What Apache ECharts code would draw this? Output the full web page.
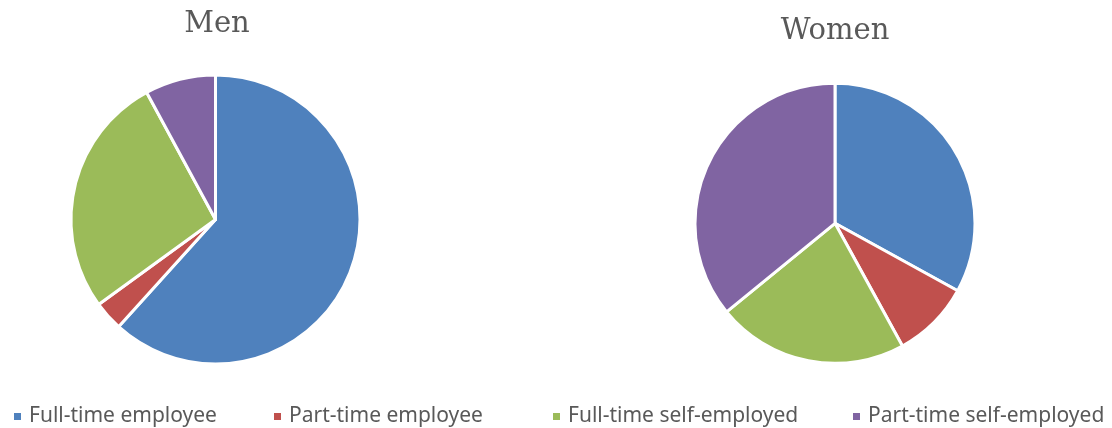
<!DOCTYPE html>
<html>
<head>
<meta charset="utf-8">
<script src="https://cdn.jsdelivr.net/npm/echarts@6/dist/echarts.min.js"></script>
<style>
html,body{margin:0;padding:0;background:#fff;}
#chart{width:1112px;height:428px;}
</style>
</head>
<body>
<div id="chart"></div>
<script>
const categories = ['Full-time employee', 'Part-time employee', 'Full-time self-employed', 'Part-time self-employed'];
const menValues = [61.7, 3.3, 27.1, 7.9];
const womenValues = [33.0, 9.0, 22.1, 35.9];
const groupTitles = ['Men', 'Women'];
const colors = ['#4F81BD', '#C0504D', '#9BBB59', '#8064A2'];

const chart = echarts.init(document.getElementById('chart'), null, {renderer: 'canvas'});

function toData(vals) {
  return categories.map((c, i) => ({name: c, value: vals[i]}));
}

const legendTextStarts = [28, 288, 567, 867];
const legends = categories.map((c, i) => ({
  data: [c],
  left: legendTextStarts[i] - 21,
  top: 401,
  icon: 'rect',
  itemWidth: 9,
  itemHeight: 9,
  selectedMode: false,
  textStyle: {
    fontFamily: 'Noto Sans',
    fontSize: 21,
    color: '#595959',
    padding: [0, 0, 0, 2]
  }
}));

const titleStyle = {
  fontFamily: 'DejaVu Serif',
  fontSize: 29,
  fontWeight: 'normal',
  color: '#595959'
};

chart.setOption({
  animation: false,
  color: colors,
  title: [
    {text: groupTitles[0], left: 212, top: 5, textAlign: 'center', textStyle: titleStyle},
    {text: groupTitles[1], left: 830, top: 12, textAlign: 'center', textStyle: titleStyle}
  ],
  legend: legends,
  series: [
    {
      type: 'pie',
      name: groupTitles[0],
      center: [215.5, 219.5],
      radius: 144.5,
      startAngle: 90,
      clockwise: true,
      label: {show: false},
      labelLine: {show: false},
      emphasis: {disabled: true},
      itemStyle: {borderColor: '#ffffff', borderWidth: 3},
      data: toData(menValues)
    },
    {
      type: 'pie',
      name: groupTitles[1],
      center: [835, 223.3],
      radius: 140,
      startAngle: 90,
      clockwise: true,
      label: {show: false},
      labelLine: {show: false},
      emphasis: {disabled: true},
      itemStyle: {borderColor: '#ffffff', borderWidth: 3},
      data: toData(womenValues)
    }
  ]
});
</script>
</body>
</html>
